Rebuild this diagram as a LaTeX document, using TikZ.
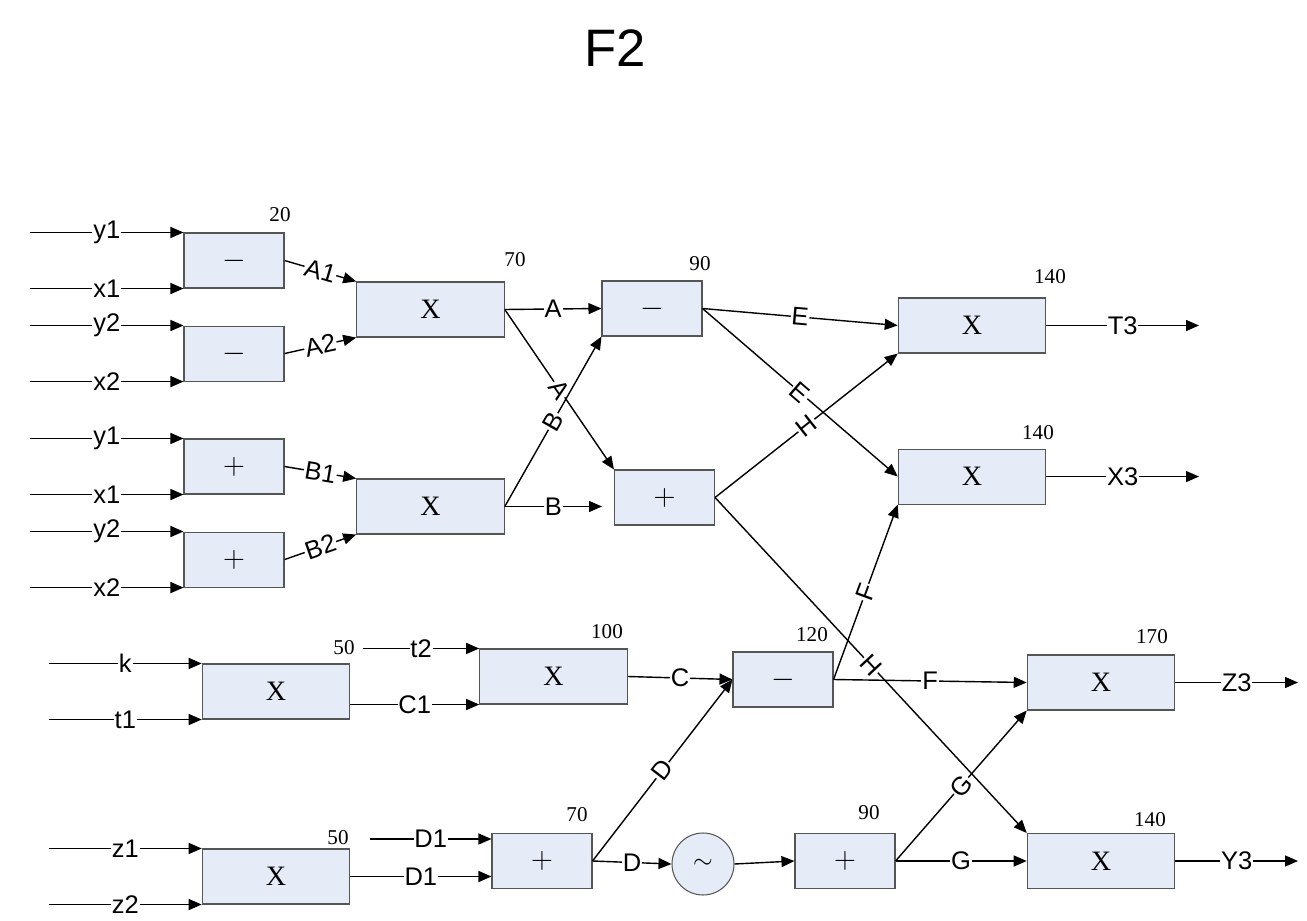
\documentclass[tikz,border=0pt]{standalone}
\usepackage{fontspec}
\setmainfont{Liberation Serif}
\setsansfont{Liberation Sans}
\usepackage{tikz}
\usetikzlibrary{arrows.meta,positioning,calc}
\definecolor{opfill}{RGB}{229,236,247}
\definecolor{opline}{RGB}{85,85,85}

\begin{document}
\begin{tikzpicture}[font=\sffamily\fontsize{14.5}{16}\selectfont,line width=0.8pt,>={Triangle[length=2.6mm,width=2.2mm]}]
\tikzset{op/.style={draw=opline,line width=0.6pt,fill=opfill,minimum width=2cm,minimum height=1.1cm,inner sep=0pt,font=\rmfamily\fontsize{16}{18}\selectfont},
wide/.style={op,minimum width=2.95cm},
tag/.style={inner sep=0pt,font=\rmfamily\fontsize{12}{14}\selectfont},
lab/.style={midway,fill=white,inner sep=0.5pt}}
\useasboundingbox (0,0) rectangle (26.14,-18.42);
\node[font=\sffamily\fontsize{30}{36}\selectfont] (title) at (12.3,-0.96) {F2};
% first stage
\node[op] (s1) at (4.68,-5.21) {$-$};
\node[op,below=0.74cm of s1] (s2) {$-$};
\node[op] (p1) at (4.68,-9.33) {$+$};
\node[op,below=0.74cm of p1] (p2) {$+$};
\node[wide] (ma) at (8.61,-6.19) {X};
\node[wide] (mb) at (8.61,-10.13) {X};
\node[op] (s3) at (13.04,-6.17) {$-$};
\node[op] (p3) at (13.29,-9.95) {$+$};
\node[wide] (mt) at (19.44,-6.51) {X};
\node[wide,below=1.9cm of mt] (mx) {X};
% lower part
\node[wide] (mk) at (5.52,-13.83) {X};
\node[wide] (mc) at (11.07,-13.53) {X};
\node[op] (s4) at (15.66,-13.59) {$-$};
\node[wide] (mz) at (22.02,-13.65) {X};
\node[wide] (md) at (5.52,-17.53) {X};
\node[op] (p4) at (10.84,-17.22) {$+$};
\node[draw=opline,line width=0.6pt,fill=opfill,circle,minimum size=1.24cm,inner sep=0pt] (osc) at (14.06,-17.28) {$\sim$};
\node[op] (p5) at (16.90,-17.22) {$+$};
\node[wide] (my) at (22.02,-17.22) {X};
% delays
\node[tag] (n1) at (5.6,-4.3) {20};
\node[tag] (n2) at (10.3,-5.2) {70};
\node[tag] (n3) at (14.0,-5.28) {90};
\node[tag] (n4) at (21.0,-5.54) {140};
\node[tag] (n5) at (20.76,-8.66) {140};
\node[tag] (n6) at (6.88,-12.96) {50};
\node[tag] (n7) at (12.14,-12.64) {100};
\node[tag] (n8) at (16.24,-12.7) {120};
\node[tag] (n9) at (23.04,-12.74) {170};
\node[tag] (n10) at (6.76,-16.76) {50};
\node[tag] (n11) at (11.54,-16.3) {70};
\node[tag] (n12) at (17.38,-16.26) {90};
\node[tag] (n13) at (23.0,-16.4) {140};
% free ends
\coordinate (in) at (0.6,0);
\coordinate (in2) at (0.98,0);
\coordinate (t2in) at (7.26,0);
\coordinate (d1in) at (7.4,-16.78);
\coordinate (bend) at (12.04,-10.13);
\coordinate (out) at (23.98,0);
\coordinate (out2) at (25.96,0);
% inputs
\draw[->](in |- s1.north west)-- node[lab]{y1}(s1.north west);
\draw[->](in |- s1.south west)-- node[lab]{x1}(s1.south west);
\draw[->](in |- s2.north west)-- node[lab]{y2}(s2.north west);
\draw[->](in |- s2.south west)-- node[lab]{x2}(s2.south west);
\draw[->](in |- p1.north west)-- node[lab]{y1}(p1.north west);
\draw[->](in |- p1.south west)-- node[lab]{x1}(p1.south west);
\draw[->](in |- p2.north west)-- node[lab]{y2}(p2.north west);
\draw[->](in |- p2.south west)-- node[lab]{x2}(p2.south west);
\draw[->](in2 |- mk.north west)-- node[lab]{k}(mk.north west);
\draw[->](in2 |- mk.south west)-- node[lab]{t1}(mk.south west);
\draw[->](in2 |- md.north west)-- node[lab]{z1}(md.north west);
\draw[->](in2 |- md.south west)-- node[lab]{z2}(md.south west);
% upper connections
\draw[->](s1.east)-- node[lab,sloped]{A1}(ma.north west);
\draw[->](s2.east)-- node[lab,sloped]{A2}(ma.south west);
\draw[->](p1.east)-- node[lab,sloped]{B1}(mb.north west);
\draw[->](p2.east)-- node[lab,sloped]{B2}(mb.south west);
\draw[->](ma.east)-- node[lab]{A}(s3.west);
\draw[->](ma.east)-- node[lab,sloped]{A}(p3.north west);
\draw[->](mb.east)-- node[lab,sloped]{B}(s3.south west);
\draw[->](mb.east)-- node[lab]{B}(bend);
\draw[->](s3.east)-- node[lab,sloped]{E}(mt.west);
\draw[->](s3.east)-- node[lab,sloped]{E}(mx.west);
\draw[->](p3.east)-- node[lab,sloped]{H}(mt.south west);
\draw[->](p3.east)-- node[lab,sloped]{H}(my.north west);
% lower connections
\draw[->](t2in |- mc.north west)-- node[lab]{t2}(mc.north west);
\draw[->](mc.south west -| mk.east)-- node[lab]{C1}(mc.south west);
\draw[->](d1in)-- node[lab]{D1}(d1in -| p4.west);
\draw[->](md.east)-- node[lab]{D1}(md.east -| p4.west);
\draw[->](mc.east)-- node[lab]{C}(s4.west);
\draw[->](p4.east)-- node[lab,sloped]{D}(s4.west);
\draw[->](p4.east)-- node[lab]{D}(osc.west);
\draw[->](osc.east)--(p5.west);
\draw[->](s4.east)-- node[lab]{F}(mz.west);
\draw[->](s4.east)-- node[lab,sloped]{F}(mx.south west);
\draw[->](p5.east)-- node[lab]{G}(my.west);
\draw[->](p5.east)-- node[lab,sloped]{G}(mz.south west);
% outputs
\draw[->](mt.east)-- node[lab]{T3}(out |- mt.east);
\draw[->](mx.east)-- node[lab]{X3}(out |- mx.east);
\draw[->](mz.east)-- node[lab]{Z3}(out2 |- mz.east);
\draw[->](my.east)-- node[lab]{Y3}(out2 |- my.east);
\end{tikzpicture}
\end{document}
